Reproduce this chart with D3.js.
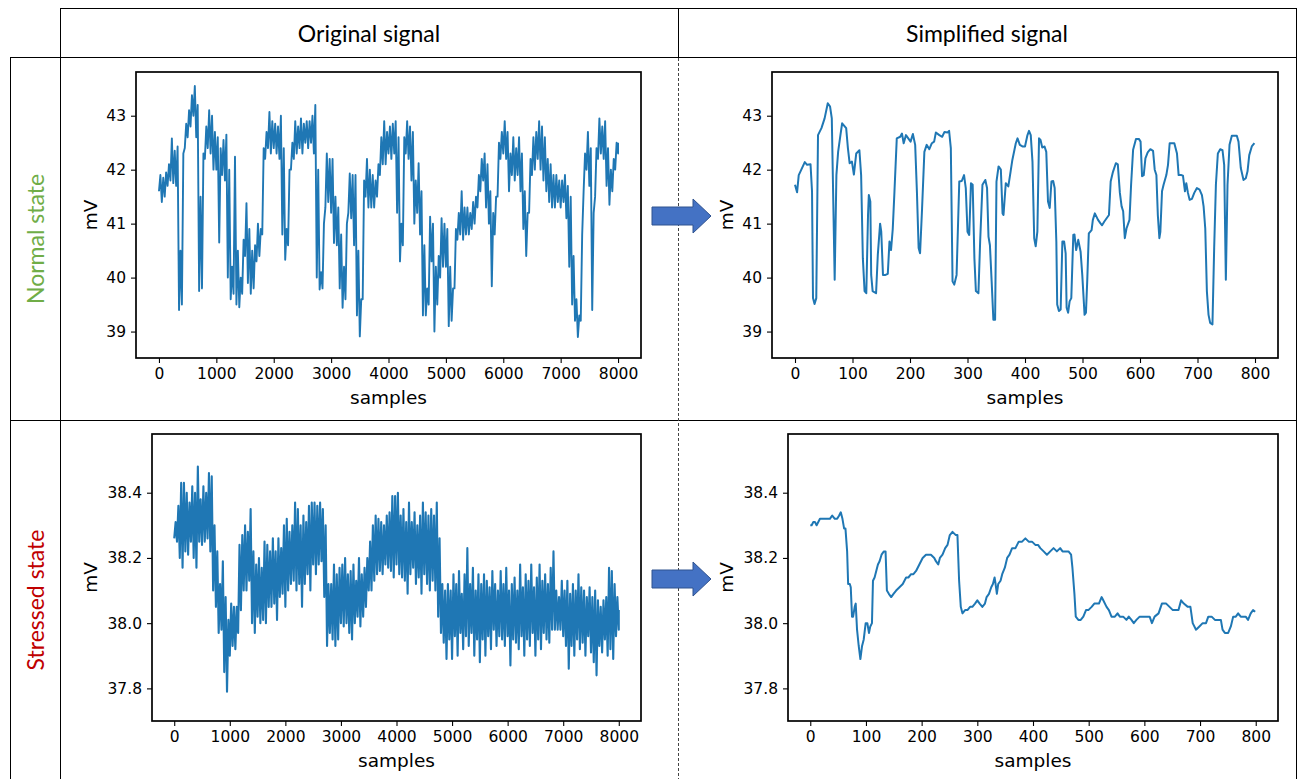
<!DOCTYPE html>
<html lang="en">
<head>
<meta charset="UTF-8">
<title>Original vs simplified signal</title>
<script src="https://d3js.org/d3.v7.min.js"></script>
<style>
    body { margin: 0; background: #fff; }
    svg { display: block; }
    .tick text { font-family: "DejaVu Sans", sans-serif; font-size: 15.5px; fill: #000; }
    .tick line { stroke: #000; stroke-width: 1.1; }
    .axis-label { font-family: "DejaVu Sans", sans-serif; font-size: 18.5px; fill: #000; }
    .head { font-family: "Lato", sans-serif; font-size: 23px; fill: #000; }
    .row-label { font-family: "Lato", sans-serif; font-size: 23px; }
</style>
</head>
<body>
<svg id="figure" width="1298" height="779"></svg>
<script>
// ---- data ----
// original signals: low / high of the noise in each window of ORIG_STEP samples (0..8000)
const ORIG_STEP = 50;

const normalOriginalLow = [
    41.6, 41.4, 41.5, 41.7, 41.8, 41.75, 41.7, 39.4, 39.5, 42.4,
    42.6, 42.8, 43.0, 42.6, 39.75, 39.8, 42.2, 42.4, 42.3, 42.0,
    42.0, 40.65, 41.9, 41.8, 40.0, 39.6, 39.7, 39.5, 39.45, 39.7,
    40.4, 39.9, 39.7, 39.8, 40.3, 40.4, 40.8, 42.2, 42.4, 42.3,
    42.4, 42.3, 42.2, 40.8, 40.33, 40.6, 42.0, 42.2, 42.3, 42.4,
    42.3, 42.5, 42.4, 42.5, 42.3, 40.0, 39.78, 39.8, 41.3, 41.4,
    41.2, 40.64, 40.6, 39.8, 39.44, 39.6, 41.2, 41.1, 40.6, 39.3,
    38.91, 39.6, 41.5, 41.3, 41.3, 41.3, 41.5, 41.9, 42.1, 42.1,
    42.3, 42.2, 42.3, 41.2, 40.3, 40.6, 42.3, 42.2, 41.8, 41.0,
    41.2, 40.8, 39.3, 39.3, 39.5, 40.3, 39.0, 39.5, 40.0, 40.2,
    40.2, 39.1, 39.2, 39.8, 40.7, 40.8, 40.7, 40.8, 40.8, 40.9,
    41.0, 41.3, 41.6, 41.8, 41.3, 41.0, 39.84, 40.8, 41.5, 42.2,
    42.3, 42.2, 41.6, 41.9, 41.8, 41.9, 41.6, 40.9, 40.4, 41.2,
    41.9, 42.0, 42.2, 42.0, 41.8, 41.6, 41.4, 41.3, 41.3, 41.4,
    41.3, 41.4, 41.1, 40.2, 39.5, 39.2, 38.9, 39.2, 41.6, 42.0,
    41.7, 39.4, 41.5, 42.2, 42.3, 42.2, 41.7, 41.35, 41.6, 42.0,
    42.3
];
const normalOriginalHigh = [
    41.9, 41.85, 41.95, 42.1, 42.58, 42.35, 42.43, 40.5, 42.3, 42.85,
    43.1, 43.38, 43.55, 43.2, 41.5, 42.3, 42.8, 43.1, 43.0, 42.7,
    42.6, 42.4, 42.55, 42.65, 42.0, 40.2, 42.24, 40.5, 40.0, 40.7,
    41.38, 40.9, 40.5, 40.6, 41.0, 40.9, 42.4, 42.7, 43.07, 42.9,
    42.85, 42.8, 43.0, 42.4, 40.9, 42.0, 42.5, 42.9, 42.8, 42.95,
    42.85, 42.9, 42.9, 43.0, 43.2, 42.0, 40.1, 41.0, 42.3, 42.2,
    42.2, 41.5, 41.3, 40.8, 40.2, 41.0, 41.93, 41.9, 41.9, 40.5,
    39.6, 41.8, 42.2, 42.0, 41.9, 41.8, 42.1, 42.6, 42.9, 42.7,
    42.8, 42.85, 42.9, 42.6, 41.0, 42.6, 42.9, 42.8, 42.7, 41.8,
    42.12, 41.6, 40.6, 39.8, 41.13, 41.0, 40.2, 40.4, 41.1, 41.0,
    40.9, 40.2, 39.8, 40.9, 41.2, 41.6, 41.3, 41.3, 41.2, 41.4,
    41.5, 41.9, 42.2, 42.3, 42.1, 41.6, 41.2, 41.5, 42.5, 42.7,
    42.9, 42.7, 42.3, 42.6, 42.4, 42.6, 42.3, 41.6, 41.2, 42.2,
    42.6, 42.7, 42.9, 42.8, 42.6, 42.2, 42.1, 41.9, 41.9, 41.8,
    41.8, 41.9, 41.7, 41.5, 40.4, 39.6, 39.3, 40.8, 42.3, 42.7,
    42.4, 41.2, 42.4, 42.95, 42.8, 42.9, 42.4, 42.0, 42.2, 42.5,
    42.5
];

const stressedOriginalLow = [
    38.26, 38.25, 38.20, 38.17, 38.22, 38.21, 38.25, 38.20, 38.17, 38.25,
    38.24, 38.25, 38.26, 38.22, 38.10, 38.05, 37.97, 37.98, 37.85, 37.79,
    37.90, 37.93, 37.92, 37.97, 38.04, 38.10, 38.10, 38.13, 38.00, 37.97,
    38.02, 38.00, 38.01, 38.00, 38.05, 38.05, 38.06, 38.01, 38.08, 38.09,
    38.05, 38.10, 38.12, 38.13, 38.10, 38.12, 38.05, 38.12, 38.15, 38.10,
    38.18, 38.15, 38.18, 38.19, 38.08, 37.93, 37.97, 37.95, 37.93, 37.95,
    38.00, 37.99, 38.00, 37.97, 37.95, 38.00, 38.02, 37.99, 38.02, 38.05,
    38.10, 38.10, 38.13, 38.15, 38.16, 38.15, 38.18, 38.17, 38.16, 38.14,
    38.18, 38.15, 38.14, 38.13, 38.09, 38.15, 38.17, 38.12, 38.14, 38.09,
    38.15, 38.12, 38.10, 38.13, 38.10, 38.02, 37.97, 37.94, 37.89, 37.95,
    37.89, 37.96, 37.90, 37.97, 37.92, 37.96, 37.93, 37.97, 37.90, 37.95,
    37.88, 37.95, 37.90, 37.96, 37.92, 37.98, 37.93, 37.96, 37.95, 37.93,
    37.96, 37.87, 37.95, 37.94, 37.92, 37.96, 37.90, 37.95, 37.93, 37.97,
    37.90, 37.95, 37.92, 37.97, 37.95, 37.94, 37.98, 37.98, 37.98, 37.98,
    37.96, 37.93, 37.86, 37.93, 37.90, 37.95, 37.92, 37.94, 37.90, 37.96,
    37.91, 37.88, 37.84, 37.93, 37.91, 37.95, 37.90, 37.92, 37.89, 37.96,
    37.98
];
const stressedOriginalHigh = [
    38.31, 38.36, 38.43, 38.43, 38.40, 38.37, 38.42, 38.40, 38.48, 38.38,
    38.42, 38.40, 38.46, 38.45, 38.30, 38.22, 38.12, 38.19, 38.08, 38.01,
    38.06, 38.05, 38.05, 38.24, 38.27, 38.30, 38.28, 38.35, 38.22, 38.18,
    38.20, 38.17, 38.25, 38.24, 38.22, 38.26, 38.22, 38.26, 38.23, 38.30,
    38.32, 38.28, 38.30, 38.37, 38.35, 38.30, 38.33, 38.31, 38.36, 38.37,
    38.37, 38.36, 38.37, 38.35, 38.30, 38.12, 38.12, 38.18, 38.15, 38.17,
    38.18, 38.20, 38.15, 38.16, 38.18, 38.13, 38.20, 38.15, 38.17, 38.20,
    38.25, 38.30, 38.33, 38.32, 38.31, 38.30, 38.33, 38.34, 38.39, 38.39,
    38.40, 38.33, 38.35, 38.31, 38.37, 38.31, 38.34, 38.30, 38.33, 38.37,
    38.34, 38.33, 38.35, 38.33, 38.37, 38.26, 38.12, 38.10, 38.12, 38.10,
    38.15, 38.12, 38.16, 38.09, 38.15, 38.23, 38.12, 38.17, 38.10, 38.15,
    38.12, 38.15, 38.13, 38.11, 38.16, 38.12, 38.10, 38.16, 38.12, 38.17,
    38.10, 38.12, 38.14, 38.10, 38.18, 38.11, 38.15, 38.13, 38.18, 38.11,
    38.14, 38.18, 38.13, 38.15, 38.12, 38.17, 38.22, 38.10, 38.08, 38.13,
    38.10, 38.13, 38.09, 38.12, 38.10, 38.15, 38.11, 38.10, 38.08, 38.11,
    38.08, 38.10, 38.07, 38.05, 38.07, 38.08, 38.17, 38.16, 38.12, 38.08,
    38.04
];

// simplified signals: [sample, mV] vertices (0..800)
const normalSimplified = [
    [0, 41.72], [3.6, 41.58], [6.5, 41.9], [11, 42.0], [17, 42.14], [21, 42.09], [27, 42.1],
    [29.6, 41.6], [31.3, 39.62], [34, 39.51], [37, 39.62], [40, 42.64], [46, 42.77], [51.5, 42.95],
    [57, 43.23], [61, 43.17], [64, 42.95], [69, 39.96], [72, 41.9], [75, 42.33], [79, 42.64],
    [82, 42.86], [89, 42.77], [92, 42.4], [95, 42.12], [99, 42.15], [102.4, 41.91], [106.5, 42.3],
    [112, 42.36], [115, 41.9], [118, 40.36], [121, 39.75], [124, 39.71], [127, 41.16], [128.4, 41.53],
    [131, 41.41], [132.5, 40.05], [135, 39.75], [141, 39.71], [144, 40.42], [148, 41.0], [150, 40.85],
    [153, 40.05], [157.4, 40.05], [161.4, 40.07], [164.3, 40.67], [167, 40.51], [170, 40.9], [173, 41.6],
    [177, 42.58], [183, 42.61], [186, 42.67], [189, 42.49], [193, 42.64], [201, 42.52], [205, 42.66],
    [209, 42.46], [212, 41.6], [215, 40.55], [217.5, 40.45], [221, 41.28], [225, 42.33], [229, 42.46],
    [233.6, 42.38], [238, 42.49], [242, 42.52], [245, 42.69], [251, 42.64], [256, 42.61], [260, 42.7],
    [265.5, 42.69], [268, 42.72], [271, 42.4], [274, 39.93], [277, 39.87], [281, 40.05], [285.7, 41.78],
    [290, 41.79], [294, 41.9], [297, 41.66], [300, 40.85], [303, 40.79], [306, 41.75], [309, 41.72],
    [312, 40.36], [314.6, 39.75], [319, 39.71], [322, 40.67], [326, 41.72], [331, 41.81], [334, 41.66],
    [336.5, 40.76], [339, 40.6], [342, 39.93], [345, 39.22], [348, 39.22], [350.4, 41.78], [354, 42.06],
    [358, 42.0], [361, 41.19], [362.6, 41.16], [366.6, 41.75], [371, 41.69], [375, 41.97], [378, 42.18],
    [384, 42.49], [387, 42.58], [391, 42.46], [395.5, 42.43], [400, 42.43], [404, 42.63], [407, 42.72],
    [410, 42.64], [413, 42.15], [416, 40.73], [418.6, 40.58], [421.5, 40.85], [424.4, 42.58], [427, 42.55],
    [430, 42.41], [434, 42.43], [437, 42.33], [440, 41.41], [443, 41.29], [446, 41.78], [449, 41.79],
    [451.6, 41.66], [454.5, 40.67], [456, 39.5], [459, 39.38], [462, 39.41], [465, 40.67], [468, 40.67],
    [470.7, 40.45], [472.4, 39.44], [475, 39.35], [477.6, 39.56], [480.5, 39.62], [484, 40.79], [486, 40.8],
    [489, 40.51], [492.6, 40.7], [496.7, 40.48], [499.6, 40.05], [503.6, 39.31], [506, 39.35], [508.2, 39.93],
    [511, 40.82], [515.8, 40.88], [518, 41.07], [521.5, 41.19], [527, 41.07], [531, 41.01], [534, 40.97],
    [538, 41.04], [546, 41.16], [549, 41.78], [553, 41.96], [558, 42.12], [561.4, 42.1], [565, 41.57],
    [568, 41.32], [570.7, 41.23], [573.6, 40.73], [576.5, 40.91], [581.7, 41.07], [584.5, 41.72], [588, 42.37],
    [593, 42.57], [598, 42.57], [601, 42.52], [603.6, 41.88], [606.5, 41.9], [609.4, 42.21], [613.4, 42.32],
    [618, 42.38], [622.7, 42.35], [625.6, 42.0], [628.5, 41.9], [631, 41.16], [633.7, 40.73], [635.4, 40.85],
    [638.3, 41.6], [641, 41.72], [645.8, 41.9], [648.7, 42.09], [651.6, 42.49], [655.7, 42.49], [659.7, 42.49],
    [664.3, 42.3], [667.2, 41.9], [671.3, 41.9], [674.7, 41.89], [678.2, 41.6], [680.5, 41.75], [683.4, 41.57],
    [686.3, 41.44], [690.3, 41.46], [694.4, 41.57], [699, 41.66], [703.6, 41.63], [707.7, 41.53], [710.6, 41.32],
    [713.5, 40.91], [716.3, 39.75], [719.2, 39.31], [722, 39.16], [726, 39.13], [729, 40.55], [732, 41.72],
    [735.4, 42.3], [739.5, 42.38], [743.5, 42.36], [746.4, 42.09], [749.3, 39.96], [752.2, 41.72], [755.7, 42.46],
    [759.7, 42.63], [768.4, 42.63], [771.3, 42.52], [775.3, 42.03], [780, 41.81], [784, 41.84], [787, 41.97],
    [790, 42.27], [794.4, 42.43], [799, 42.49]
];

const stressedSimplified = [
    [0, 38.30], [2.5, 38.30], [5.5, 38.31], [8.4, 38.31], [11.4, 38.30], [14.4, 38.31], [17.4, 38.32],
    [20.3, 38.32], [23.3, 38.32], [29.3, 38.32], [35.2, 38.32], [39.4, 38.33], [44.1, 38.32], [48.3, 38.32],
    [51.9, 38.33], [54.8, 38.34], [57.8, 38.32], [60.8, 38.29], [63.2, 38.29], [66.2, 38.22], [68, 38.12],
    [71, 38.12], [72.7, 38.11], [75, 38.02], [76.9, 38.02], [79.8, 38.05], [81.6, 38.06], [84, 37.98],
    [87, 37.93], [90, 37.89], [93, 37.93], [96, 37.95], [99.5, 38.0], [102.5, 38.0], [105.4, 37.97],
    [107.8, 37.99], [110.8, 38.0], [112.6, 38.13], [115.5, 38.14], [118.5, 38.16], [121.5, 38.18],
    [124.5, 38.19], [128, 38.21], [132.2, 38.22], [135.2, 38.22], [137.6, 38.10], [141.1, 38.09],
    [145.3, 38.08], [149.5, 38.09], [154.2, 38.1], [160.2, 38.11], [166.1, 38.12], [172.1, 38.14],
    [176.2, 38.14], [181, 38.15], [185.2, 38.15], [190, 38.16], [195.9, 38.18], [201.8, 38.2], [207.8, 38.21],
    [212.5, 38.21], [216.7, 38.21], [222.7, 38.2], [225.6, 38.19], [229.8, 38.18], [232.8, 38.2],
    [237.5, 38.21], [242.3, 38.23], [246.5, 38.24], [250.6, 38.27], [255.4, 38.28], [261.4, 38.27],
    [264.3, 38.27], [267.3, 38.13], [270.3, 38.05], [273.3, 38.03], [278, 38.04], [282.2, 38.04], [287, 38.05],
    [291.1, 38.05], [295.9, 38.06], [300, 38.07], [304.2, 38.06], [309, 38.05], [313.7, 38.06], [316.7, 38.08],
    [320.9, 38.09], [325, 38.11], [328, 38.12], [331, 38.14], [332.8, 38.12], [335.1, 38.09], [337.5, 38.12],
    [341.7, 38.13], [344.7, 38.15], [349.4, 38.17], [353.6, 38.2], [357.8, 38.21], [362.5, 38.23],
    [368.5, 38.23], [374.4, 38.25], [380.4, 38.25], [386.3, 38.26], [392.3, 38.25], [398.2, 38.25],
    [404.2, 38.24], [409, 38.24], [413.1, 38.23], [419.1, 38.22], [425, 38.21], [431, 38.22], [436.9, 38.23],
    [442.9, 38.22], [448.8, 38.23], [453, 38.22], [457.7, 38.22], [463.7, 38.22], [468.4, 38.21],
    [470.8, 38.17], [474.4, 38.09], [476.8, 38.02], [481.5, 38.01], [485.7, 38.01], [490.4, 38.02],
    [495.2, 38.04], [499.4, 38.04], [505.3, 38.05], [510.1, 38.06], [514.3, 38.06], [518.4, 38.06],
    [523.2, 38.08], [526.2, 38.07], [532.1, 38.05], [536.3, 38.04], [541, 38.02], [547, 38.02], [551.8, 38.03],
    [556, 38.02], [562, 38.02], [567.8, 38.01], [572, 38.02], [576.8, 38.01], [581, 38.0], [585.7, 38.01],
    [591.6, 38.02], [600.6, 38.02], [609.5, 38.02], [613.6, 38.0], [618.4, 38.02], [625.5, 38.03],
    [631.5, 38.06], [639.2, 38.06], [645.2, 38.05], [651.1, 38.04], [657.1, 38.04], [661.3, 38.04],
    [666, 38.07], [670.8, 38.06], [678, 38.05], [682.7, 38.05], [686.8, 38.0], [692.8, 37.98], [698.8, 37.99],
    [704.7, 38.0], [710.7, 38.0], [714.8, 38.02], [720.8, 38.02], [726.7, 38.01], [732.7, 38.01],
    [737.4, 38.01], [740.4, 37.98], [744.6, 37.97], [750.5, 37.97], [755.3, 37.99], [759.5, 38.02],
    [764.2, 38.02], [768.4, 38.03], [773.1, 38.02], [777.9, 38.02], [782, 38.02], [786.2, 38.01],
    [791, 38.03], [795.2, 38.04], [799, 38.035]
];

// ticks and labels
const originalXTicks = [0, 1000, 2000, 3000, 4000, 5000, 6000, 7000, 8000];
const simplifiedXTicks = [0, 100, 200, 300, 400, 500, 600, 700, 800];
const normalYTicks = [39, 40, 41, 42, 43];
const stressedYTicks = [37.8, 38.0, 38.2, 38.4];
const columnTitles = ['Original signal', 'Simplified signal'];
const rowTitles = ['Normal state', 'Stressed state'];

// ---- drawing ----
const svg = d3.select('#figure');
const LINE_COLOR = '#1f77b4';

// noisy trace: low then high of each window, one after the other
function noisyTrace(low, high) {
    const pts = [];
    low.forEach((lo, i) => {
        const s = i * ORIG_STEP;
        pts.push([s, lo]);
        pts.push([Math.min(s + ORIG_STEP / 2, 8000), high[i]]);
    });
    return pts;
}

const panels = [
    { box: [136, 72, 641, 358], xDomain: [-400, 8400], yDomain: [38.51, 43.81],
      xTicks: originalXTicks, yTicks: normalYTicks, yFmt: d3.format('d'),
      data: noisyTrace(normalOriginalLow, normalOriginalHigh), lw: 1.9, ylabelGap: 45 },
    { box: [772, 72, 1278, 358], xDomain: [-40, 840], yDomain: [38.51, 43.81],
      xTicks: simplifiedXTicks, yTicks: normalYTicks, yFmt: d3.format('d'),
      data: normalSimplified, lw: 2, ylabelGap: 45 },
    { box: [152, 434, 641, 721], xDomain: [-400, 8400], yDomain: [37.70, 38.58],
      xTicks: originalXTicks, yTicks: stressedYTicks, yFmt: d3.format('.1f'),
      data: noisyTrace(stressedOriginalLow, stressedOriginalHigh), lw: 2.1, ylabelGap: 61 },
    { box: [788, 434, 1278, 721], xDomain: [-40, 840], yDomain: [37.70, 38.58],
      xTicks: simplifiedXTicks, yTicks: stressedYTicks, yFmt: d3.format('.1f'),
      data: stressedSimplified, lw: 2, ylabelGap: 61 }
];

function drawPanel(p, idx) {
    const [x0, y0, x1, y1] = p.box;
    const x = d3.scaleLinear().domain(p.xDomain).range([x0, x1]);
    const y = d3.scaleLinear().domain(p.yDomain).range([y1, y0]);
    const g = svg.append('g');

    g.append('clipPath').attr('id', 'clip' + idx)
        .append('rect').attr('x', x0).attr('y', y0).attr('width', x1 - x0).attr('height', y1 - y0);

    g.append('path')
        .datum(p.data)
        .attr('clip-path', `url(#clip${idx})`)
        .attr('fill', 'none')
        .attr('stroke', LINE_COLOR)
        .attr('stroke-width', p.lw)
        .attr('stroke-linejoin', 'round')
        .attr('d', d3.line().x(d => x(d[0])).y(d => y(d[1])));

    const xAxis = g.append('g')
        .attr('transform', `translate(0,${y1})`)
        .call(d3.axisBottom(x).tickValues(p.xTicks).tickSize(5).tickPadding(5).tickFormat(d3.format('d')));
    const yAxis = g.append('g')
        .attr('transform', `translate(${x0},0)`)
        .call(d3.axisLeft(y).tickValues(p.yTicks).tickSize(5).tickPadding(5).tickFormat(p.yFmt));
    xAxis.select('.domain').remove();
    yAxis.select('.domain').remove();

    g.append('rect')
        .attr('x', x0).attr('y', y0)
        .attr('width', x1 - x0).attr('height', y1 - y0)
        .attr('fill', 'none').attr('stroke', '#000').attr('stroke-width', 1.7);

    g.append('text')
        .attr('class', 'axis-label')
        .attr('x', (x0 + x1) / 2).attr('y', y1 + 46)
        .attr('text-anchor', 'middle')
        .text('samples');

    g.append('text')
        .attr('class', 'axis-label')
        .attr('transform', `translate(${x0 - p.ylabelGap},${(y0 + y1) / 2}) rotate(-90)`)
        .attr('dy', '0.35em')
        .attr('text-anchor', 'middle')
        .text('mV');
}

// table frame
const frame = svg.append('g').attr('stroke', '#000').attr('stroke-width', 1).attr('shape-rendering', 'crispEdges');
[[60, 8.5, 1297, 8.5], [10, 57.5, 1297, 57.5], [10, 420.5, 1297, 420.5],
 [60.5, 8, 60.5, 779], [10.5, 57, 10.5, 779], [1296.5, 8, 1296.5, 779], [678.5, 8, 678.5, 57]]
    .forEach(l => frame.append('line').attr('x1', l[0]).attr('y1', l[1]).attr('x2', l[2]).attr('y2', l[3]));
frame.append('line')
    .attr('x1', 678.5).attr('y1', 58).attr('x2', 678.5).attr('y2', 779)
    .attr('stroke', '#444').attr('stroke-dasharray', '3,2');

// column headers
svg.selectAll('.head').data(columnTitles).enter().append('text')
    .attr('class', 'head')
    .attr('x', (d, i) => i === 0 ? 369 : 987)
    .attr('y', 42)
    .attr('text-anchor', 'middle')
    .text(d => d);

// row headers
const rowColors = ['#70ad47', '#c00000'];
const rowCenters = [239, 600];
rowTitles.forEach((t, i) => {
    svg.append('text')
        .attr('class', 'row-label')
        .attr('fill', rowColors[i])
        .attr('transform', `translate(36,${rowCenters[i]}) rotate(-90)`)
        .attr('dy', '0.35em')
        .attr('text-anchor', 'middle')
        .text(t);
});

// block arrows between the panels
function arrow(cy) {
    const pts = [[652, cy - 9], [693, cy - 9], [693, cy - 17], [711, cy], [693, cy + 17], [693, cy + 9], [652, cy + 9]];
    svg.append('polygon')
        .attr('points', pts.map(p => p.join(',')).join(' '))
        .attr('fill', '#4472c4')
        .attr('stroke', '#2f528f')
        .attr('stroke-width', 1);
}
arrow(216);
arrow(579);

panels.forEach(drawPanel);
</script>
</body>
</html>
